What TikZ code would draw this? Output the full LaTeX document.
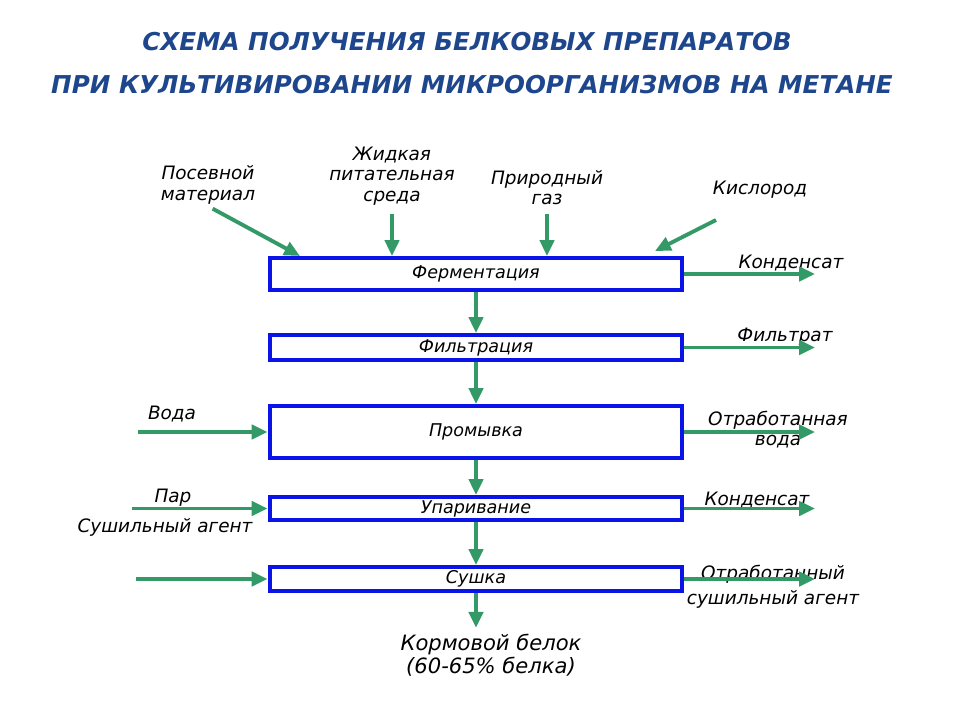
\documentclass[tikz,border=0pt]{standalone}
\usepackage{fontspec}
\setmainfont{DejaVu Sans}
\usetikzlibrary{arrows.meta}

\definecolor{flowgreen}{RGB}{51,153,102}
\definecolor{boxblue}{RGB}{10,20,230}
\definecolor{titleblue}{RGB}{30,70,140}

\tikzset{
  stage/.style={draw=boxblue, line width=2.3pt, minimum width=8.26cm, inner sep=0pt,
    font=\fontsize{10}{11}\selectfont\itshape},
  flow/.style={draw=flowgreen, line width=2.2pt, -{Triangle[length=9pt,width=8pt]}},
  lbl/.style={font=\fontsize{10.5}{11.5}\selectfont\itshape, align=center, inner sep=1pt},
  headline/.style={font=\fontsize{14}{16}\selectfont\bfseries\itshape, text=titleblue},
}

\begin{document}
\begin{tikzpicture}[x=0.02cm, y=-0.02cm]
  \useasboundingbox (0,0) rectangle (960,720);

  % title
  \node[headline] (title1) at (467,42) {СХЕМА ПОЛУЧЕНИЯ БЕЛКОВЫХ ПРЕПАРАТОВ};
  \node[headline] (title2) at (472,85) {ПРИ КУЛЬТИВИРОВАНИИ МИКРООРГАНИЗМОВ НА МЕТАНЕ};

  % stages
  \node[stage, minimum height=0.64cm] (ferm) at (476,274) {Ферментация};
  \node[stage, minimum height=0.50cm] (filt) at (476,347.5) {Фильтрация};
  \node[stage, minimum height=1.04cm] (wash) at (476,432) {Промывка};
  \node[stage, minimum height=0.46cm] (evap) at (476,508.5) {Упаривание};
  \node[stage, minimum height=0.48cm] (dry) at (476,579) {Сушка};

  \draw[flow] (ferm) -- (filt);
  \draw[flow] (filt) -- (wash);
  \draw[flow] (wash) -- (evap);
  \draw[flow] (evap) -- (dry);

  % inputs on top
  \node[lbl] (seed) at (208,185) {Посевной\\материал};
  \node[lbl] (medium) at (392,176) {Жидкая\\питательная\\среда};
  \node[lbl] (gas) at (547,188) {Природный\\газ};
  \node[lbl] (oxy) at (760,190) {Кислород};
  \coordinate (seedin) at (300,256);
  \coordinate (oxyout) at (716,220);
  \coordinate (oxyin) at (655,251);
  \draw[flow, shorten <=3pt] (seed.south) -- (seedin);
  \draw[flow, shorten <=4pt] (medium.south) -- (medium.south |- ferm.north);
  \draw[flow, shorten <=4pt] (gas.south) -- (gas.south |- ferm.north);
  \draw[flow] (oxyout) -- (oxyin);

  % inputs on the left
  \node[lbl] (water) at (172,414) {Вода};
  \node[lbl] (steam) at (173,498) {Пар};
  \node[lbl] (agent) at (165,527) {Сушильный агент};
  \coordinate (waterin) at (138,0);
  \coordinate (steamin) at (132,0);
  \coordinate (agentin) at (136,0);
  \draw[flow] (waterin |- wash.west) -- (wash.west);
  \draw[flow] (steamin |- evap.west) -- (evap.west);
  \draw[flow] (agentin |- dry.west) -- (dry.west);

  % outputs on the right
  \node[lbl] (condA) at (791,263) {Конденсат};
  \node[lbl] (filtrate) at (785,337) {Фильтрат};
  \node[lbl] (wastewater) at (778,430) {Отработанная\\вода};
  \node[lbl] (condB) at (757,500) {Конденсат};
  \node[lbl] (wasteagent) at (773,587) {Отработанный\\[3pt]сушильный агент};
  \coordinate (outend) at (815,0);
  \draw[flow] (ferm.east) -- (ferm.east -| outend);
  \draw[flow] (filt.east) -- (filt.east -| outend);
  \draw[flow] (wash.east) -- (wash.east -| outend);
  \draw[flow] (evap.east) -- (evap.east -| outend);
  \draw[flow] (dry.east) -- (dry.east -| outend);

  % product
  \node[font=\fontsize{12}{13}\selectfont\itshape, align=center] (feed) at (491,655) {Кормовой белок\\(60-65\% белка)};
  \draw[flow] (dry.south) -- (dry.south |- feed.north);
\end{tikzpicture}
\end{document}
